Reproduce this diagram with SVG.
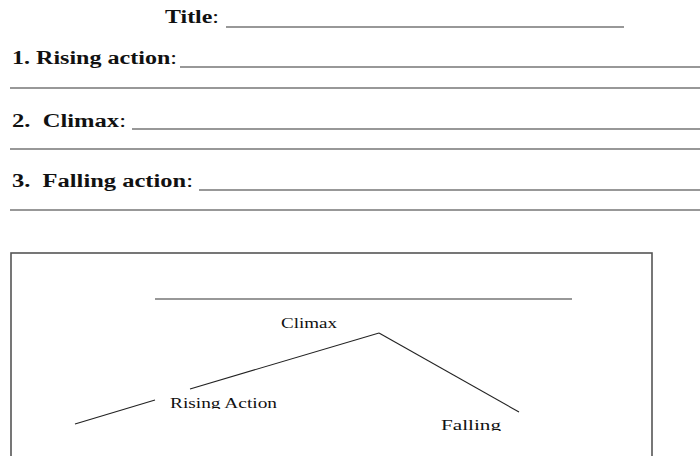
<svg xmlns="http://www.w3.org/2000/svg" width="700" height="456" viewBox="0 0 700 456">
<style>
.hd{font-family:"Liberation Serif","Times New Roman",serif;font-size:18px;font-weight:bold;fill:#111}
.hd .c{font-weight:normal}
.lb{font-family:"Liberation Serif","Times New Roman",serif;font-size:15.5px;fill:#111}
.ul{stroke:#333;stroke-width:1.2;fill:none}
.frame{stroke:#555;stroke-width:1.6;fill:none}
.plot{stroke:#222;stroke-width:1.1;fill:none}
</style>
<defs>
<clipPath id="clipRise"><rect x="150" y="380" width="150" height="29"/></clipPath>
<clipPath id="clipFall"><rect x="430" y="400" width="100" height="31"/></clipPath>
</defs>
<rect width="700" height="456" fill="#fff"/>
<g id="header">
<text class="hd" x="165" y="23" textLength="54" lengthAdjust="spacingAndGlyphs">Title<tspan class="c">:</tspan></text>
<line class="ul" x1="226" y1="27" x2="624" y2="27"/>
<text class="hd" x="12" y="64" textLength="165" lengthAdjust="spacingAndGlyphs">1. Rising action<tspan class="c">:</tspan></text>
<line class="ul" x1="180" y1="67" x2="700" y2="67"/>
<line class="ul" x1="10" y1="88" x2="700" y2="88"/>
<text class="hd" x="12" y="127" xml:space="preserve" textLength="114" lengthAdjust="spacingAndGlyphs">2.  Climax<tspan class="c">:</tspan></text>
<line class="ul" x1="132" y1="129" x2="700" y2="129"/>
<line class="ul" x1="10" y1="149" x2="700" y2="149"/>
<text class="hd" x="12" y="187" xml:space="preserve" textLength="181" lengthAdjust="spacingAndGlyphs">3.  Falling action<tspan class="c">:</tspan></text>
<line class="ul" x1="199" y1="190" x2="700" y2="190"/>
<line class="ul" x1="10" y1="210" x2="700" y2="210"/>
</g>
<g id="frame">
<rect class="frame" x="11" y="253" width="641" height="260"/>
<line class="ul" x1="155" y1="299" x2="572" y2="299"/>
</g>
<g id="connectors">
<line class="plot" x1="75" y1="424" x2="155" y2="400"/>
<line class="plot" x1="190" y1="389" x2="379" y2="333"/>
<line class="plot" x1="379" y1="333" x2="519" y2="412"/>
</g>
<g id="climax">
<text class="lb" x="281" y="328" textLength="56" lengthAdjust="spacingAndGlyphs">Climax</text>
</g>
<g id="rising-action">
<text class="lb" x="170" y="408" textLength="107" lengthAdjust="spacingAndGlyphs" clip-path="url(#clipRise)">Rising Action</text>
</g>
<g id="falling">
<text class="lb" x="441" y="430" textLength="60" lengthAdjust="spacingAndGlyphs" clip-path="url(#clipFall)">Falling</text>
</g>
</svg>
